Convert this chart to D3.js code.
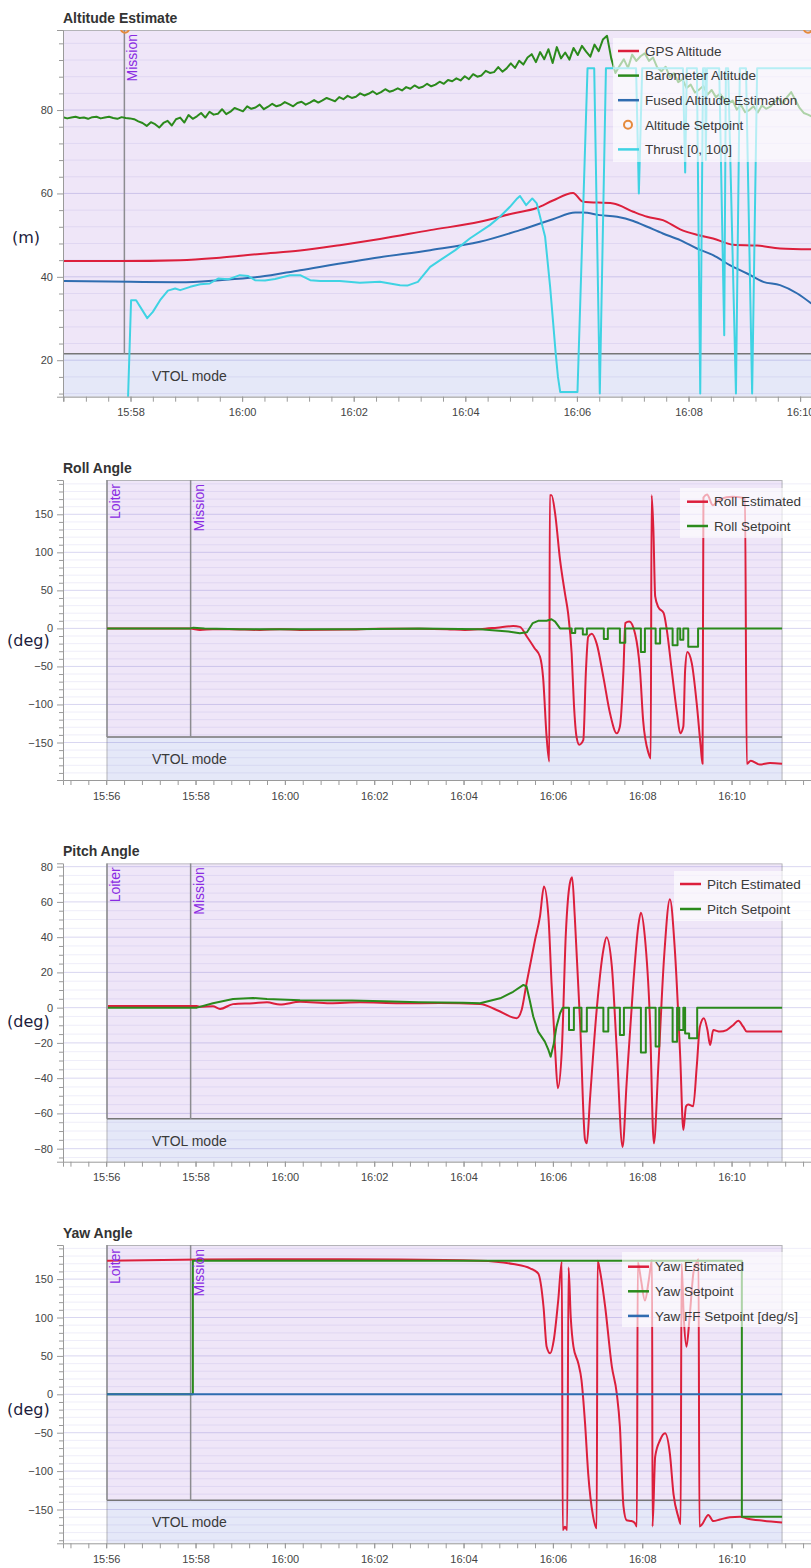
<!DOCTYPE html>
<html>
<head>
<meta charset="utf-8">
<script src="https://cdn.jsdelivr.net/npm/d3@7"></script>
<style>
  body { margin: 0; background: #fff; }
  svg { display: block; font-family: "Liberation Sans", Arial, sans-serif; }
</style>
</head>
<body>
<svg id="chart" width="811" height="1568"></svg>
<script>
// time values are minutes after 15:56:00

var altTimeLabels = ["15:58", "16:00", "16:02", "16:04", "16:06", "16:08", "16:10"],
    angleTimeLabels = ["15:56", "15:58", "16:00", "16:02", "16:04", "16:06", "16:08", "16:10"],
    altTicks = [20, 40, 60, 80],
    rollTicks = [-150, -100, -50, 0, 50, 100, 150],
    pitchTicks = [-80, -60, -40, -20, 0, 20, 40, 60, 80],
    yawTicks = [-150, -100, -50, 0, 50, 100, 150];

var modes = [
  {t: 0.018, name: "Loiter"},
  {t: 1.89, name: "Mission"}
];
var flightEnd = 15.13;

var gpsAlt = [[0.79,43.8],[1.81,43.8],[2.89,44.0],[3.60,44.6],[4.32,45.5],[5.04,46.3],[5.75,47.6],[6.47,49.1],
  [7.37,51.2],[8.26,53.2],[8.85,55.2],[9.28,56.5],[9.57,58.3],[9.93,60.1],[10.11,58.0],[10.65,57.6],[11.01,55.6],
  [11.26,54.4],[11.54,53.6],[11.85,51.4],[12.15,50.1],[12.44,49.2],[12.80,47.7],[13.23,47.5],[13.64,46.8],[14.20,46.6]];

var baroStart = 0.79, baroStep = 0.075;
var baroAlt = [
  78.3,78.0,78.2,78.4,78.1,78.2,77.9,78.3,78.4,78.0,
  78.2,78.4,78.1,77.9,78.3,78.1,78.0,77.8,77.3,76.9,
  76.2,77.1,76.6,75.8,76.9,77.4,76.3,77.8,78.2,77.0,
  78.8,77.9,78.5,79.3,78.2,79.6,78.9,79.1,80.2,79.0,
  79.6,80.5,80.1,79.7,80.9,80.3,80.6,81.3,80.2,80.8,
  81.5,80.9,81.2,81.9,81.4,80.9,81.7,82.0,81.3,81.8,
  82.4,81.8,82.3,82.9,82.5,82.1,83.1,82.6,83.4,82.9,
  83.2,84.0,83.5,83.9,84.5,83.8,84.3,85.0,84.4,84.7,
  85.2,84.7,85.5,85.1,85.9,85.3,85.6,86.3,85.7,86.1,
  86.8,86.3,87.2,86.9,87.6,87.1,88.1,87.4,88.6,88.0,
  88.3,89.4,88.9,89.1,90.3,89.2,90.0,91.2,90.1,91.8,
  90.9,92.6,93.4,91.5,93.9,92.2,94.6,91.3,95.1,92.4,
  93.8,92.1,94.9,93.2,95.4,94.0,92.8,95.7,94.1,96.9,
  97.8,92.4,88.9,90.6,92.2,90.1,93.3,91.8,92.9,93.6,
  91.8,92.6,90.2,89.3,90.4,87.9,88.8,86.7,87.4,85.3,
  86.1,84.2,84.9,85.8,83.7,84.8,83.1,83.9,82.6,81.5,
  82.3,80.1,81.2,79.5,80.0,80.9,79.4,81.1,80.3,80.8,
  81.9,82.8,81.5,83.1,84.3,82.4,80.5,79.3,78.9,78.4];

var fusedAlt = [[0.79,39.0],[2.0,38.8],[2.89,38.7],[3.60,39.2],[4.32,40.0],[5.04,41.6],[6.47,44.7],[7.37,46.4],
  [8.26,48.4],[8.98,51.2],[9.57,53.8],[9.97,55.4],[10.11,55.4],[10.41,54.8],[10.72,54.4],[11.01,53.4],[11.26,52.0],
  [11.54,50.4],[11.85,48.8],[12.15,46.8],[12.44,45.2],[12.74,42.8],[13.05,40.8],[13.34,38.8],[13.64,38.0],
  [13.95,36.0],[14.20,33.6]];

var altSetpoint = [[1.90,99.5],[14.14,99.5]];

var thrust = [[0.79,0],[1.93,0],[2.01,34.4],[2.10,34.4],[2.30,30.1],[2.40,31.6],[2.53,34.4],[2.67,36.7],[2.80,37.2],
  [2.89,36.8],[3.07,37.6],[3.25,38.2],[3.42,38.4],[3.57,39.6],[3.75,39.4],[3.96,40.4],[4.11,40.2],[4.23,39.2],
  [4.41,39.1],[4.59,39.5],[4.86,40.4],[5.04,40.4],[5.22,39.2],[5.40,39.0],[5.75,39.0],[6.11,38.6],[6.47,38.8],
  [6.83,38.0],[6.96,37.9],[7.15,38.8],[7.37,42.4],[7.55,44.0],[7.82,46.4],[8.08,49.2],[8.44,52.4],[8.62,54.4],
  [8.80,56.8],[8.93,58.8],[8.98,59.4],[9.09,57.2],[9.20,58.8],[9.28,57.6],[9.43,49.6],[9.52,37.6],[9.57,29.6],
  [9.62,21.6],[9.66,16.0],[9.70,12.4],[10.01,12.4],[10.19,90],[10.31,90],[10.41,12],[10.52,90],[11.06,90],
  [11.11,60],[11.17,90],[11.90,90],[11.94,65],[11.97,90],[12.15,90],[12.21,12],[12.26,90],[12.30,90],[12.31,68],
  [12.33,90],[12.55,90],[12.64,26],[12.67,90],[12.71,90],[12.85,12],[12.92,90],[13.03,90],[13.14,12],[13.23,90],
  [14.20,90]];

var rollEst = [[0.02,0],[0.98,0],[1.88,0],[2.10,-2],[2.39,-1],[2.76,-1],[3.44,-2],[3.89,-1],[4.34,-2],[5.39,-1.5],
  [6.13,-0.5],[7.02,-0.5],[7.63,-1],[8.03,-2],[8.37,-1],[8.75,1],[9.11,3],[9.26,2],[9.42,-11],[9.59,-26],[9.71,-37],
  [9.78,-64],[9.86,-143],[9.92,-175],[9.93,175],[9.97,175],[10.05,151],[10.16,90],[10.27,46],[10.34,20],[10.42,-33],
  [10.47,-99],[10.53,-143],[10.59,-153],[10.68,-147],[10.74,-55],[10.79,-11],[10.87,-7],[10.98,-20],[11.13,-64],
  [11.28,-112],[11.43,-138],[11.50,-129],[11.58,-55],[11.62,7],[11.71,9],[11.84,-7],[11.95,-55],[12.02,-121],
  [12.14,-164],[12.19,-171],[12.21,175],[12.25,129],[12.29,42],[12.36,28],[12.48,20],[12.55,-2],[12.66,-55],
  [12.78,-112],[12.85,-138],[12.92,-129],[12.96,-55],[13.01,-31],[13.11,-46],[13.22,-99],[13.31,-156],[13.35,-178],
  [13.37,172],[13.45,176],[13.58,162],[13.74,170],[14.03,173],[14.30,171],[14.34,-178],[14.43,-174],[14.63,-179],
  [14.86,-177],[15.13,-178]];

var rollSp = [[0.02,0],[1.88,0],[1.95,1],[2.2,0],[3.0,-1],[5.5,-1],[7.0,0],[8.37,-1],[9.0,-4],[9.26,-6.5],[9.42,-5],
  [9.55,7],[9.67,10],[9.86,10],[9.97,12],[10.05,9],[10.16,0],[10.42,0],[10.42,-6],[10.50,-6],[10.50,0],[10.67,0],
  [10.67,-8],[10.76,-8],[10.76,0],[11.14,0],[11.14,-14],[11.23,-14],[11.23,0],[11.50,0],[11.50,-19],[11.62,-19],
  [11.62,0],[11.97,0],[11.97,-31],[12.06,-31],[12.06,0],[12.30,0],[12.30,-20],[12.40,-20],[12.40,0],[12.68,0],
  [12.68,-22],[12.79,-22],[12.79,0],[12.85,0],[12.85,-15],[12.92,-15],[12.92,0],[13.03,0],[13.03,-24],[13.25,-24],
  [13.25,0],[15.13,0]];

var pitchEst = [[0.04,1],[2.03,1],[2.10,0.5],[2.39,0.8],[2.55,-0.7],[2.84,2],[3.29,2.5],[3.60,3],[3.89,1.8],[4.34,3.3],
  [5.01,2.5],[5.68,3],[6.58,2.5],[7.47,2.6],[8.37,2.1],[8.74,-1.3],[9.19,-6],[9.30,-1.3],[9.41,13.8],[9.60,38.4],
  [9.71,51.6],[9.80,68.7],[9.90,51.6],[9.97,13.8],[10.05,-24],[10.11,-45.7],[10.20,-24],[10.29,42.2],[10.38,70.6],
  [10.43,74],[10.49,51.6],[10.61,-8.9],[10.72,-75],[10.76,-77],[10.83,-52],[10.98,-1.3],[11.13,32.8],[11.20,40],
  [11.32,23.3],[11.43,-24],[11.56,-79],[11.65,-43],[11.80,13.8],[11.91,46],[11.97,53.9],[12.06,39.8],[12.17,-5.1],
  [12.26,-77],[12.36,-33.5],[12.49,28.9],[12.62,61.5],[12.73,32.8],[12.85,-27.8],[12.92,-69.4],[12.98,-56],
  [13.03,-55],[13.14,-56],[13.22,-33.5],[13.29,-10.8],[13.38,-6],[13.46,-12.7],[13.52,-21.2],[13.59,-12.7],
  [13.74,-13.6],[13.89,-12.7],[14.04,-9.8],[14.15,-7.4],[14.26,-10.8],[14.34,-13.6],[15.13,-13.6]];

var pitchSp = [[0.04,0],[2.03,0],[2.39,2.5],[2.84,4.9],[3.29,5.5],[3.60,4.9],[4.34,4.2],[5.5,4.0],[6.2,3.6],[7.0,3.0],
  [8.0,2.8],[8.37,2.5],[8.82,5.3],[9.11,9],[9.34,12.9],[9.41,12],[9.48,4.4],[9.56,-5],[9.67,-13.6],[9.82,-19.3],
  [9.90,-24],[9.95,-27.8],[10.02,-20.4],[10.08,-10.8],[10.16,-3.2],[10.22,0],[10.36,0],[10.36,-12.7],[10.47,-12.7],
  [10.47,0],[10.64,0],[10.64,-13.6],[10.76,-13.6],[10.76,0],[11.13,0],[11.13,-13.6],[11.24,-13.6],[11.24,0],
  [11.50,0],[11.50,-15.5],[11.59,-15.5],[11.59,0],[11.97,0],[11.97,-25.4],[12.08,-25.4],[12.08,0],[12.30,0],
  [12.30,-22],[12.38,-22],[12.38,0],[12.68,0],[12.68,-19.3],[12.78,-19.3],[12.78,0],[12.83,0],[12.83,-12.7],
  [12.92,-12.7],[12.92,0],[12.96,0],[12.96,-14.6],[13.05,-14.6],[13.05,-17.4],[13.23,-17.4],[13.23,0],[15.13,0]];

var yawEst = [[0.02,174],[2.10,175.5],[4.34,175.8],[6.58,175.5],[8.37,174],[9.11,169.6],[9.49,164],[9.67,157.5],
  [9.79,114],[9.86,62],[9.94,53.4],[10.02,70.7],[10.12,122.8],[10.20,172.7],[10.22,-176.7],[10.27,-172.4],
  [10.32,-176.7],[10.35,165],[10.40,100],[10.46,62],[10.57,40],[10.64,18.6],[10.72,-37.8],[10.79,-103],[10.90,-159],
  [10.98,-174.5],[11.00,174],[11.05,162],[11.17,114],[11.32,36],[11.43,1],[11.50,-42],[11.58,-146],[11.65,-164],
  [11.76,-165],[11.84,-168],[11.88,-172],[11.90,172],[11.97,150],[12.06,122],[12.15,150],[12.22,175],[12.23,-172],
  [12.29,-81],[12.40,-59.5],[12.51,-50.8],[12.62,-77.8],[12.70,-130],[12.81,-160],[12.86,-169],[12.88,170],
  [12.93,100],[12.99,62],[13.06,100],[13.15,160],[13.22,172],[13.26,176],[13.28,-172],[13.33,-170],[13.48,-157],
  [13.59,-165],[13.74,-163],[13.96,-160],[14.19,-159.4],[14.34,-161.6],[14.71,-164.6],[15.13,-167]];

var yawSp = [[0.02,0],[1.94,0],[1.94,174],[14.23,174],[14.23,-159.4],[15.13,-159.4]];
var yawFF = [[0.02,0],[15.13,0]];

var red = "#dc1f3c", green = "#2b8a1c", blue = "#2f6cb0", cyan = "#3fd3e3", orange = "#e58a3c";

var baroPoints = baroAlt.map(function(v, i) { return [baroStart + i * baroStep, v]; });

var panels = [
  {title: "Altitude Estimate", unit: "(m)", unitX: 12, unitY: 243, titleY: 22.5, top: 30, bottom: 396.7,
   xDomain: [0.79, 14.195], yDomain: [11.25, 99.2], yTicks: altTicks, yMinor: 4, xLabels: altTimeLabels,
   legend: {x: 613, y: 38, w: 200, h: 124, sx: 618, tx: 645, ly: 51, dy: 24.6},
   series: [
     {name: "GPS Altitude", data: gpsAlt, color: red, smooth: true},
     {name: "Barometer Altitude", data: baroPoints, color: green},
     {name: "Fused Altitude Estimation", data: fusedAlt, color: blue, smooth: true},
     {name: "Altitude Setpoint", data: altSetpoint, color: orange, dots: true},
     {name: "Thrust [0, 100]", data: thrust, color: cyan}
   ]},
  {title: "Roll Angle", unit: "(deg)", unitX: 7, unitY: 646, titleY: 472.5, top: 480, bottom: 780,
   xDomain: [-0.967, 15.778], yDomain: [-199.3, 195.1], yTicks: rollTicks, yMinor: 10, xLabels: angleTimeLabels,
   legend: {x: 680, y: 488, w: 135, h: 50, sx: 687, tx: 714, ly: 501.7, dy: 24.3},
   series: [
     {name: "Roll Estimated", data: rollEst, color: red, smooth: true},
     {name: "Roll Setpoint", data: rollSp, color: green}
   ]},
  {title: "Pitch Angle", unit: "(deg)", unitX: 7, unitY: 1027, titleY: 855.5, top: 863.3, bottom: 1161.7,
   xDomain: [-0.967, 15.778], yDomain: [-87.4, 81.9], yTicks: pitchTicks, yMinor: 5, xLabels: angleTimeLabels,
   legend: {x: 674, y: 871, w: 140, h: 50, sx: 680, tx: 707, ly: 884, dy: 25},
   series: [
     {name: "Pitch Estimated", data: pitchEst, color: red, smooth: true},
     {name: "Pitch Setpoint", data: pitchSp, color: green}
   ]},
  {title: "Yaw Angle", unit: "(deg)", unitX: 7, unitY: 1415, titleY: 1238, top: 1245, bottom: 1543.3,
   xDomain: [-0.967, 15.778], yDomain: [-194.0, 194.4], yTicks: yawTicks, yMinor: 10, xLabels: angleTimeLabels,
   legend: {x: 622, y: 1252, w: 195, h: 75, sx: 628, tx: 655, ly: 1266.7, dy: 24.6},
   series: [
     {name: "Yaw Estimated", data: yawEst, color: red, smooth: true},
     {name: "Yaw Setpoint", data: yawSp, color: green},
     {name: "Yaw FF Setpoint [deg/s]", data: yawFF, color: blue}
   ]}
];

var left = 63, right = 811, vtolHeight = 43;
var parseHM = d3.timeParse("%H:%M");
var base = parseHM("15:56");
function toDate(t) { return new Date(base.getTime() + t * 60000); }

var svg = d3.select("#chart");

panels.forEach(function(p, i) {
  var x = d3.scaleTime().domain(p.xDomain.map(toDate)).range([left, right]);
  var y = d3.scaleLinear().domain(p.yDomain).range([p.bottom, p.top]);
  var g = svg.append("g");
  var vtolY = p.bottom - vtolHeight;

  g.append("clipPath").attr("id", "clip" + i)
    .append("rect")
    .attr("x", left).attr("y", p.top)
    .attr("width", right - left).attr("height", p.bottom - p.top);

  var plot = g.append("g").attr("clip-path", "url(#clip" + i + ")");

  // flight mode background
  var rx0 = x(toDate(modes[0].t)), rx1 = x(toDate(flightEnd));
  plot.append("rect")
    .attr("x", rx0).attr("y", p.top)
    .attr("width", rx1 - rx0).attr("height", vtolY - p.top)
    .attr("fill", "#efe6f8");
  plot.append("rect")
    .attr("x", rx0).attr("y", vtolY)
    .attr("width", rx1 - rx0).attr("height", p.bottom - vtolY)
    .attr("fill", "#e5e8f8");
  plot.append("rect")
    .attr("x", rx0).attr("y", p.top + 0.5)
    .attr("width", rx1 - rx0).attr("height", p.bottom - p.top)
    .attr("fill", "none").attr("stroke", "#b4b4b8").attr("stroke-width", 1);

  // grid
  var minor = d3.range(Math.ceil(p.yDomain[0] / p.yMinor), Math.floor(p.yDomain[1] / p.yMinor) + 1)
    .map(function(k) { return k * p.yMinor; })
    .filter(function(v) { return p.yTicks.indexOf(v) < 0; });
  plot.selectAll(".gminor").data(minor).enter().append("line")
    .attr("x1", left).attr("x2", right)
    .attr("y1", function(d) { return y(d); }).attr("y2", function(d) { return y(d); })
    .attr("stroke", "rgba(110,100,200,0.11)").attr("stroke-width", 1);
  plot.selectAll(".gmajor").data(p.yTicks).enter().append("line")
    .attr("x1", left).attr("x2", right)
    .attr("y1", function(d) { return y(d); }).attr("y2", function(d) { return y(d); })
    .attr("stroke", "rgba(110,100,200,0.26)").attr("stroke-width", 1);

  // VTOL band
  plot.append("line")
    .attr("x1", rx0).attr("x2", rx1).attr("y1", vtolY).attr("y2", vtolY)
    .attr("stroke", "#767676").attr("stroke-width", 1.5);
  g.append("text")
    .attr("x", 152).attr("y", vtolY + 27)
    .attr("font-size", 14).attr("fill", "#3a3a3a")
    .text("VTOL mode");

  // mode change lines
  modes.forEach(function(m) {
    var mx = x(toDate(m.t));
    if (mx < left || mx > right) return;
    plot.append("line")
      .attr("x1", mx).attr("x2", mx).attr("y1", p.top).attr("y2", vtolY)
      .attr("stroke", "#8c8c90").attr("stroke-width", 1.5);
    g.append("text")
      .attr("transform", "translate(" + (mx + 13) + "," + (p.top + 4) + ") rotate(-90)")
      .attr("text-anchor", "end")
      .attr("font-size", 14).attr("fill", "#8a2be2")
      .text(m.name);
  });

  // series
  p.series.forEach(function(s) {
    if (s.dots) {
      plot.selectAll(null).data(s.data).enter().append("circle")
        .attr("cx", function(d) { return x(toDate(d[0])); })
        .attr("cy", function(d) { return y(d[1]); })
        .attr("r", 4)
        .attr("fill", "none").attr("stroke", s.color).attr("stroke-width", 2);
      return;
    }
    var line = d3.line()
      .x(function(d) { return x(toDate(d[0])); })
      .y(function(d) { return y(d[1]); })
      .curve(s.smooth ? d3.curveMonotoneX : d3.curveLinear);
    plot.append("path")
      .datum(s.data)
      .attr("d", line)
      .attr("fill", "none")
      .attr("stroke", s.color)
      .attr("stroke-width", 2)
      .attr("stroke-linejoin", "round");
  });

  // axes
  var minorT = d3.range(Math.ceil(p.xDomain[0] / 0.4), Math.floor(p.xDomain[1] / 0.4) + 1)
    .map(function(k) { return toDate(k * 0.4); });
  var xMinor = g.append("g").attr("transform", "translate(0," + p.bottom + ")")
    .call(d3.axisBottom(x).tickValues(minorT).tickSize(5).tickFormat(""));
  xMinor.select(".domain").remove();
  var xAxis = g.append("g").attr("transform", "translate(0," + p.bottom + ")")
    .call(d3.axisBottom(x)
      .tickValues(p.xLabels.map(function(l) { return parseHM(l); }))
      .tickFormat(d3.timeFormat("%H:%M"))
      .tickSize(5).tickPadding(7));

  var yMinorAxis = g.append("g").attr("transform", "translate(" + left + ",0)")
    .call(d3.axisLeft(y).tickValues(minor).tickSize(4).tickFormat(""));
  yMinorAxis.select(".domain").remove();
  var yAxis = g.append("g").attr("transform", "translate(" + left + ",0)")
    .call(d3.axisLeft(y).tickValues(p.yTicks).tickSize(6).tickPadding(4));

  [xMinor, xAxis, yMinorAxis, yAxis].forEach(function(a) {
    a.selectAll("path, line").attr("stroke", "#9a9a9a");
    a.selectAll("text").attr("fill", "#444").attr("font-size", 11)
      .attr("font-family", "Liberation Sans, Arial, sans-serif");
  });

  // titles
  g.append("text")
    .attr("x", left).attr("y", p.titleY)
    .attr("font-size", 14).attr("font-weight", "bold").attr("fill", "#333")
    .text(p.title);
  g.append("text")
    .attr("x", p.unitX).attr("y", p.unitY)
    .attr("font-family", "DejaVu Sans, sans-serif")
    .attr("font-size", 16).attr("fill", "#1c1c3c")
    .text(p.unit);

  // legend
  var L = p.legend;
  g.append("rect")
    .attr("x", L.x).attr("y", L.y).attr("width", L.w).attr("height", L.h)
    .attr("fill", "#fff").attr("fill-opacity", 0.62);
  p.series.forEach(function(s, j) {
    var ly = L.ly + j * L.dy;
    if (s.dots) {
      g.append("circle")
        .attr("cx", (L.sx + L.tx - 7) / 2).attr("cy", ly).attr("r", 4)
        .attr("fill", "none").attr("stroke", s.color).attr("stroke-width", 2);
    } else {
      g.append("line")
        .attr("x1", L.sx).attr("x2", L.tx - 6).attr("y1", ly).attr("y2", ly)
        .attr("stroke", s.color).attr("stroke-width", 2.5);
    }
    g.append("text")
      .attr("x", L.tx).attr("y", ly).attr("dy", "0.35em")
      .attr("font-size", 13.5).attr("fill", "#3a3a3a")
      .text(s.name);
  });
});
</script>
</body>
</html>
